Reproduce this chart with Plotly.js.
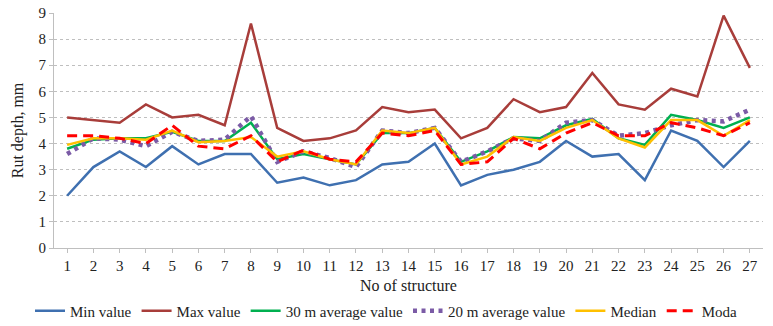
<!DOCTYPE html>
<html>
<head>
<meta charset="utf-8">
<script src="https://cdn.plot.ly/plotly-3.0.1.min.js"></script>
<style>html,body{margin:0;padding:0;background:#fff;}#chart{width:773px;height:326px;}</style>
</head>
<body>
<div id="chart"></div>
<script>
const structures = ['1','2','3','4','5','6','7','8','9','10','11','12','13','14','15','16','17','18','19','20','21','22','23','24','25','26','27'];
const minValue = [2.0, 3.1, 3.7, 3.1, 3.9, 3.2, 3.6, 3.6, 2.5, 2.7, 2.4, 2.6, 3.2, 3.3, 4.0, 2.4, 2.8, 3.0, 3.3, 4.1, 3.5, 3.6, 2.6, 4.5, 4.1, 3.1, 4.1];
const maxValue = [5.0, 4.9, 4.8, 5.5, 5.0, 5.1, 4.7, 8.6, 4.6, 4.1, 4.2, 4.5, 5.4, 5.2, 5.3, 4.2, 4.6, 5.7, 5.2, 5.4, 6.7, 5.5, 5.3, 6.1, 5.8, 8.9, 6.9];
const avg30 = [3.8, 4.15, 4.2, 4.2, 4.45, 4.1, 4.1, 4.8, 3.4, 3.6, 3.4, 3.2, 4.4, 4.4, 4.6, 3.3, 3.7, 4.25, 4.2, 4.7, 4.95, 4.2, 3.95, 5.1, 4.9, 4.6, 5.0];
const avg20 = [3.6, 4.2, 4.15, 3.9, 4.45, 4.1, 4.15, 5.05, 3.3, 3.7, 3.45, 3.1, 4.5, 4.4, 4.6, 3.3, 3.7, 4.2, 4.1, 4.8, 4.9, 4.3, 4.4, 4.7, 4.9, 4.85, 5.3];
const median = [3.95, 4.2, 4.2, 4.15, 4.5, 4.05, 4.1, 4.25, 3.5, 3.7, 3.4, 3.2, 4.5, 4.4, 4.6, 3.2, 3.5, 4.25, 4.1, 4.6, 4.9, 4.2, 3.85, 4.9, 4.9, 4.3, 4.9];
const moda = [4.3, 4.3, 4.2, 4.0, 4.7, 3.9, 3.8, 4.3, 3.3, 3.75, 3.4, 3.3, 4.4, 4.3, 4.5, 3.2, 3.3, 4.2, 3.8, 4.4, 4.8, 4.3, 4.3, 4.8, 4.6, 4.3, 4.8];
const yTicks = [0,1,2,3,4,5,6,7,8,9];

const font = "'Liberation Serif', 'Times New Roman', serif";
function tr(name, y, color, dash, width){
  return {type:'scatter', mode:'lines', name:name, x:structures, y:y,
    line:{color:color, width:width||2.5, dash:dash||'solid'}};
}
const traces = [
  tr('Min value', minValue, '#3F70B0'),
  tr('Max value', maxValue, '#A83D3A'),
  tr('30 m average value', avg30, '#00B050'),
  tr('20 m average value', avg20, '#7B5BA6', '4px,4.5px', 4.5),
  tr('Median', median, '#FFC000'),
  tr('Moda', moda, '#FF0000', '10px,6px', 3)
];
const layout = {
  width:773, height:326,
  margin:{l:54, r:10, t:13, b:78},
  paper_bgcolor:'#fff', plot_bgcolor:'#fff',
  font:{family:font, size:15, color:'#222'},
  showlegend:true,
  legend:{orientation:'h', x:0.5, xref:'container', xanchor:'center', y:0.046, yref:'container', yanchor:'middle',
    font:{family:font, size:15, color:'#222'}, traceorder:'normal', itemwidth:30, tracegroupgap:0,
    bgcolor:'rgba(0,0,0,0)'},
  xaxis:{type:'category', range:[-0.5, 26.5], showgrid:false, zeroline:false,
    showline:true, linecolor:'#BFBFBF', linewidth:1, ticks:'outside', ticklen:4, tickcolor:'#BFBFBF',
    tickfont:{family:font, size:15, color:'#222'}, automargin:false,
    title:{text:'No of structure', font:{family:font, size:16, color:'#222'}, standoff:6}},
  yaxis:{range:[0,9], tickvals:yTicks, showgrid:true, gridcolor:'#BFBFBF', griddash:'dot', gridwidth:1,
    zeroline:false, showline:true, linecolor:'#BFBFBF', linewidth:1, ticks:'outside', ticklen:4, tickcolor:'#BFBFBF',
    tickfont:{family:font, size:15, color:'#222'}, automargin:false,
    title:{text:'Rut depth, mm', font:{family:font, size:16, color:'#222'}, standoff:10}}
};
Plotly.newPlot('chart', traces, layout, {displayModeBar:false, staticPlot:true});
</script>
</body>
</html>
